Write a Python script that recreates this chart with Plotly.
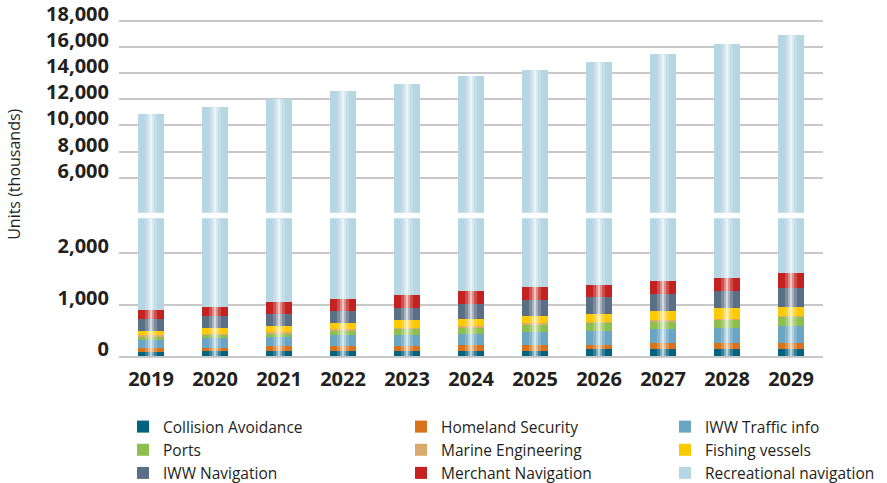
import plotly.graph_objects as go

years = ["2019", "2020", "2021", "2022", "2023", "2024", "2025", "2026", "2027", "2028", "2029"]

collision_avoidance = [84, 103, 103, 103, 103, 103, 103, 136, 136, 136, 136]
homeland_security = [78, 59, 98, 98, 98, 111, 111, 72, 117, 117, 117]
iww_traffic_info = [150, 189, 169, 208, 208, 220, 259, 279, 273, 292, 337]
ports = [58, 58, 58, 78, 117, 117, 131, 156, 136, 156, 169]
marine_engineering = [39, 19, 39, 39, 25, 39, 39, 25, 39, 20, 26]
fishing_vessels = [84, 117, 123, 117, 150, 131, 142, 156, 175, 214, 169]
iww_navigation = [228, 240, 234, 233, 240, 297, 311, 325, 337, 331, 376]
merchant_navigation = [181, 175, 233, 240, 241, 254, 242, 240, 253, 259, 292]
recreational_navigation = [9988, 10470, 10943, 11494, 11958, 12478, 12942, 13501, 14034, 14675, 15268]

lower_ticks = [0, 1000, 2000]
upper_ticks = [6000, 8000, 10000, 12000, 14000, 16000, 18000]

series = [
    ("Collision Avoidance", collision_avoidance, "#00627f", "legend"),
    ("Homeland Security", homeland_security, "#d9731b", "legend2"),
    ("IWW Traffic info", iww_traffic_info, "#6aa5c3", "legend3"),
    ("Ports", ports, "#8cbf4d", "legend"),
    ("Marine Engineering", marine_engineering, "#d9aa6b", "legend2"),
    ("Fishing vessels", fishing_vessels, "#fdc900", "legend3"),
    ("IWW Navigation", iww_navigation, "#5a6e86", "legend"),
    ("Merchant Navigation", merchant_navigation, "#c4211f", "legend2"),
    ("Recreational navigation", recreational_navigation, "#b5d6e2", "legend3"),
]

totals = [sum(s[1][i] for s in series) for i in range(len(years))]

fig = go.Figure()

# lower (0 - ~2,700) section
for name, vals, color, lg in series:
    fig.add_trace(go.Bar(
        x=years, y=vals, name=name, legend=lg,
        marker=dict(color=color, line=dict(width=0)),
        xaxis="x", yaxis="y",
    ))
# upper (broken) section
for name, vals, color, lg in series:
    fig.add_trace(go.Bar(
        x=years, y=vals, name=name, showlegend=False,
        marker=dict(color=color, line=dict(width=0)),
        xaxis="x", yaxis="y2",
    ))

# cylinder highlight overlays
for w, op in [(0.2, 0.2), (0.1, 0.35), (0.04, 0.5)]:
    for ax in ["y", "y2"]:
        fig.add_trace(go.Bar(
            x=years, y=totals, base=0, width=w, showlegend=False,
            marker=dict(color=f"rgba(255,255,255,{op})", line=dict(width=0)),
            hoverinfo="skip", xaxis="x", yaxis=ax,
        ))

tick_font = dict(family="Open Sans", size=20, color="#231f20", weight="bold")
grid = "#c8c8c8"

legend_common = dict(
    xanchor="left", yanchor="top", y=-0.158, bgcolor="rgba(0,0,0,0)",
    font=dict(family="Open Sans", size=15.5, color="#231f20"),
    tracegroupgap=0, orientation="v", traceorder="normal",
)

fig.update_layout(
    width=887, height=483,
    margin=dict(l=119, r=64, t=14, b=127, autoexpand=False),
    barmode="stack", bargap=0.594,
    plot_bgcolor="white", paper_bgcolor="white",
    font=dict(family="Open Sans", color="#231f20"),
    xaxis=dict(
        type="category", showgrid=False, showline=True, linecolor=grid, linewidth=1.5,
        ticks="", tickfont=tick_font, anchor="y", ticklabelstandoff=4,
    ),
    yaxis=dict(
        domain=[0, 0.4026], range=[0, 2682], tickvals=lower_ticks, tickformat=",",
        gridcolor=grid, gridwidth=1.5, zeroline=False, showline=False, ticks="",
        tickfont=tick_font, ticklabelshift=-7, ticklabelstandoff=9, anchor="x",
        ticklabeloverflow="allow",
    ),
    yaxis2=dict(
        domain=[0.419, 1], range=[3320, 18534], tickvals=upper_ticks, tickformat=",",
        gridcolor=grid, gridwidth=1.5, zeroline=False, showline=False, ticks="",
        tickfont=tick_font, ticklabelshift=-7, ticklabelstandoff=9, anchor="x",
        ticklabeloverflow="allow",
    ),
    legend=dict(x=0.0057, **legend_common),
    legend2=dict(x=0.4006, **legend_common),
    legend3=dict(x=0.7756, **legend_common),
    annotations=[dict(
        text="Units (thousands)", textangle=-90, x=-0.149, y=0.53,
        xref="paper", yref="paper", showarrow=False, xanchor="center", yanchor="middle",
        font=dict(family="Open Sans", size=16, color="#231f20"),
    )],
    showlegend=True,
)

fig.write_html(
    "out.html",
    config={"displayModeBar": False},
    post_script="document.body.style.margin='0';document.body.style.padding='0';",
)
